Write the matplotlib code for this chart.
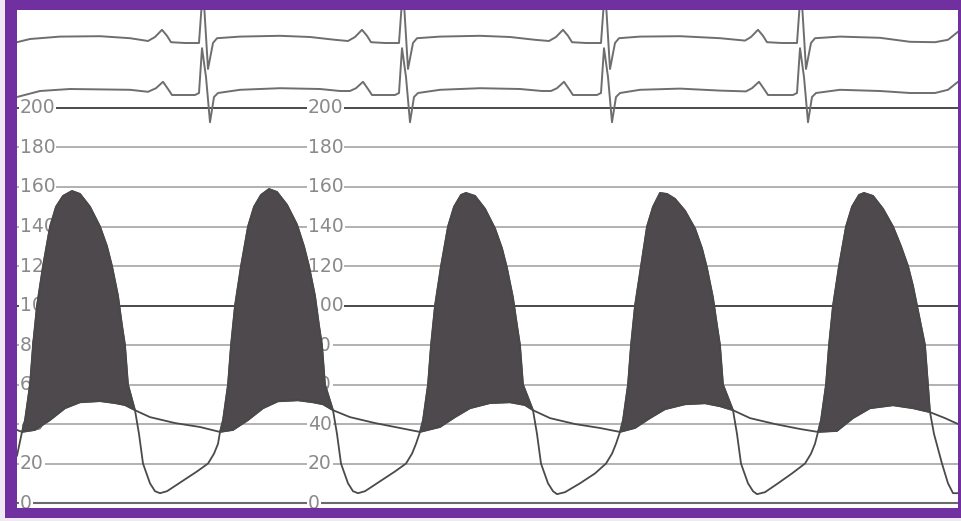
import matplotlib
matplotlib.use("Agg")
import numpy as np
import matplotlib.pyplot as plt
from matplotlib.patches import Rectangle

# left ventricular pressure (time in s, mmHg)
lv_t = [0.000, 0.020, 0.032, 0.052, 0.064, 0.080, 0.104, 0.132, 0.156, 0.184, 0.220, 0.252,
        0.292, 0.332, 0.360, 0.380, 0.404, 0.420, 0.432, 0.444, 0.472, 0.488, 0.504, 0.532,
        0.552, 0.572, 0.600, 0.660, 0.720, 0.764, 0.788, 0.804,
        0.812, 0.824, 0.844, 0.856, 0.872, 0.896, 0.924, 0.948, 0.976, 1.008, 1.040, 1.080,
        1.120, 1.148, 1.168, 1.192, 1.208, 1.220, 1.232, 1.264, 1.280, 1.296, 1.324, 1.344,
        1.364, 1.392, 1.452, 1.512, 1.556, 1.580, 1.596,
        1.612, 1.624, 1.644, 1.656, 1.672, 1.696, 1.724, 1.748, 1.776, 1.796, 1.832, 1.872,
        1.912, 1.940, 1.960, 1.984, 2.000, 2.012, 2.024, 2.064, 2.080, 2.096, 2.124, 2.144,
        2.160, 2.192, 2.252, 2.312, 2.356, 2.380, 2.396,
        2.412, 2.424, 2.444, 2.456, 2.472, 2.496, 2.520, 2.544, 2.572, 2.600, 2.632, 2.672,
        2.712, 2.740, 2.760, 2.784, 2.800, 2.812, 2.824, 2.864, 2.880, 2.896, 2.924, 2.944,
        2.960, 2.992, 3.044, 3.100, 3.152, 3.176, 3.192,
        3.204, 3.216, 3.236, 3.248, 3.264, 3.288, 3.316, 3.340, 3.368, 3.388, 3.424, 3.464,
        3.504, 3.536, 3.564, 3.584, 3.600, 3.616, 3.632, 3.644, 3.652, 3.668, 3.700, 3.724,
        3.744, 3.764]
lv_p = [24, 36, 42, 60, 80, 100, 120, 140, 150, 155.5, 158, 156.5,
        150, 140, 130, 120, 105, 90, 80, 60, 47, 35, 20, 10,
        6, 5, 6, 11, 16, 20, 25, 30,
        36, 42, 60, 80, 100, 120, 140, 150, 156, 159, 157.5, 151,
        141, 130, 120, 105, 90, 80, 60, 47, 35, 20, 10, 6,
        5, 6, 11, 16, 20, 25, 30,
        36, 42, 60, 80, 100, 120, 140, 150, 156, 157, 155.5, 149,
        139, 129, 119, 104, 90, 80, 60, 47, 35, 20, 10, 6,
        4.5, 5.5, 10, 15, 20, 25, 30,
        36, 42, 60, 80, 100, 120, 140, 150, 157, 156.5, 154, 148,
        139, 129, 119, 104, 90, 80, 60, 47, 35, 20, 10, 6,
        4.5, 5.5, 10, 15, 20, 25, 30,
        36, 42, 60, 80, 100, 120, 140, 150, 156, 157, 155.5, 149,
        140, 130, 120, 110, 100, 90, 80, 60, 46, 35, 20, 10,
        5, 5]

# aortic pressure
ao_t = [0.000, 0.020, 0.072, 0.132, 0.192, 0.252, 0.332, 0.392, 0.432, 0.472, 0.532, 0.632,
        0.732, 0.812,
        0.864, 0.924, 0.984, 1.044, 1.124, 1.184, 1.224, 1.264, 1.332, 1.432, 1.532, 1.612,
        1.692, 1.752, 1.812, 1.892, 1.972, 2.032, 2.064, 2.132, 2.232, 2.332, 2.412,
        2.472, 2.532, 2.592, 2.672, 2.752, 2.812, 2.864, 2.932, 3.032, 3.132, 3.204,
        3.280, 3.344, 3.412, 3.504, 3.584, 3.652, 3.712, 3.764]
ao_p = [37, 36, 37, 42, 48, 51, 51.6, 50.6, 49.6, 47, 43.5, 40.5,
        38.5, 36,
        37, 42, 48, 51.5, 52, 51, 50, 47, 43.5, 40.5, 38, 36,
        38.5, 43.5, 48, 50.6, 51, 49.6, 47, 43, 40, 38, 36,
        38, 43, 47.5, 50, 50.5, 49, 47, 43, 40, 37.5, 36,
        36.5, 43, 48, 49.5, 48, 46, 43, 40]

# systolic ejection: LV above aortic pressure
eject_start = [0.020, 0.812, 1.612, 2.412, 3.204]
eject_end = [0.472, 1.264, 2.064, 2.864, 3.652]

# two ECG leads (mV)
ecg1_t = [0.000, 0.052, 0.172, 0.332, 0.452, 0.524, 0.552, 0.580, 0.600, 0.616, 0.672, 0.728,
          0.744, 0.764, 0.784, 0.800, 0.892, 1.052, 1.172, 1.272, 1.324, 1.352, 1.380, 1.400,
          1.416, 1.472, 1.528, 1.544, 1.564, 1.584, 1.600, 1.692, 1.852, 1.972, 2.072, 2.128,
          2.156, 2.184, 2.204, 2.220, 2.276, 2.336, 2.352, 2.372, 2.392, 2.408, 2.492, 2.652,
          2.812, 2.912, 2.936, 2.964, 2.984, 3.000, 3.060, 3.120, 3.136, 3.156, 3.176, 3.192,
          3.292, 3.452, 3.572, 3.672, 3.724, 3.764]
ecg1_v = [0.02, 0.10, 0.16, 0.17, 0.12, 0.05, 0.15, 0.33, 0.18, 0.02, 0.0, 0.0,
          1.4, -0.65, 0.0, 0.12, 0.16, 0.18, 0.15, 0.08, 0.05, 0.15, 0.33, 0.18,
          0.02, 0.0, 0.0, 1.4, -0.65, 0.0, 0.12, 0.16, 0.18, 0.15, 0.08, 0.05,
          0.15, 0.33, 0.18, 0.02, 0.0, 0.0, 1.4, -0.65, 0.0, 0.12, 0.16, 0.17,
          0.12, 0.06, 0.15, 0.33, 0.18, 0.02, 0.0, 0.0, 1.4, -0.65, 0.0, 0.12,
          0.16, 0.13, 0.03, 0.02, 0.08, 0.28]
ecg2_t = [0.000, 0.092, 0.212, 0.452, 0.524, 0.556, 0.584, 0.604, 0.620, 0.712, 0.728, 0.740,
          0.756, 0.772, 0.788, 0.804, 0.892, 1.052, 1.212, 1.292, 1.332, 1.356, 1.384, 1.404,
          1.420, 1.512, 1.528, 1.540, 1.556, 1.572, 1.588, 1.604, 1.692, 1.852, 2.012, 2.100,
          2.136, 2.160, 2.188, 2.208, 2.224, 2.320, 2.336, 2.348, 2.364, 2.380, 2.396, 2.412,
          2.492, 2.652, 2.812, 2.916, 2.940, 2.968, 2.988, 3.004, 3.104, 3.120, 3.132, 3.148,
          3.164, 3.180, 3.196, 3.292, 3.452, 3.572, 3.672, 3.724, 3.764]
ecg2_v = [-0.10, 0.05, 0.10, 0.08, 0.03, 0.12, 0.28, 0.10, -0.05, -0.05, 0.0, 1.12,
          0.4, -0.73, -0.1, 0.0, 0.08, 0.12, 0.10, 0.05, 0.05, 0.12, 0.28, 0.10,
          -0.05, -0.05, 0.0, 1.12, 0.4, -0.73, -0.1, 0.0, 0.08, 0.12, 0.10, 0.05,
          0.05, 0.12, 0.28, 0.10, -0.05, -0.05, 0.0, 1.12, 0.4, -0.73, -0.1, 0.0,
          0.08, 0.11, 0.06, 0.04, 0.12, 0.28, 0.10, -0.05, -0.05, 0.0, 1.12, 0.4,
          -0.73, -0.1, 0.0, 0.08, 0.05, 0.0, 0.0, 0.08, 0.28]

pressure_ticks = [0, 20, 40, 60, 80, 100, 120, 140, 160, 180, 200]
label_pos = [0.012, 1.164]

fig = plt.figure(figsize=(9.61, 5.21), dpi=100, facecolor="#efe9f4")
frame = Rectangle((5 / 961, 3 / 521), 956 / 961, 518 / 521,
                  transform=fig.transFigure, facecolor="#7030a0",
                  edgecolor="none", zorder=-10)
fig.add_artist(frame)
ax = fig.add_axes([17 / 961, 13 / 521, 941 / 961, 498 / 521])
ax.set_zorder(1)
ax.set_facecolor("white")
ax.set_xlim(0, 3.764)
ax.set_ylim(-2.5, 249.6)
ax.set_xticks([])
ax.set_yticks([])
for s in ax.spines.values():
    s.set_visible(False)

# pressure scale lines, 0/100/200 drawn heavier
for lvl in pressure_ticks:
    if lvl in (100, 200):
        ax.axhline(lvl, color="#3c3c3c", lw=1.3, zorder=1)
    elif lvl == 0:
        ax.axhline(lvl, color="#6a6a6a", lw=1.5, zorder=1)
    else:
        ax.axhline(lvl, color="#ababab", lw=1.3, zorder=1)
    for x in label_pos:
        ax.text(x, lvl, str(lvl), fontsize=13.5, color="#8a8a8a", ha="left", va="center",
                zorder=2, clip_on=True,
                bbox=dict(facecolor="white", edgecolor="none", pad=0.5))

lv_t = np.array(lv_t)
lv_p = np.array(lv_p)
ao_t = np.array(ao_t)
ao_p = np.array(ao_p)

# shade the gradient between LV and aorta during ejection
for t0, t1 in zip(eject_start, eject_end):
    m1 = (lv_t >= t0) & (lv_t <= t1)
    m2 = (ao_t >= t0) & (ao_t <= t1)
    xs = np.concatenate([lv_t[m1], ao_t[m2][::-1]])
    ys = np.concatenate([lv_p[m1], ao_p[m2][::-1]])
    ax.fill(xs, ys, facecolor="#4e494c", edgecolor="#3a3638", lw=1.0, zorder=3)

ax.plot(lv_t, lv_p, color="#4a4a4a", lw=1.3, zorder=4)
ax.plot(ao_t, ao_p, color="#4a4a4a", lw=1.3, zorder=4)

# ECG strip on its own scale at the top
ecg = ax.twinx()
ecg.set_zorder(2)
ecg.set_ylim(-11.625, 0.825)
ecg.set_yticks([])
for s in ecg.spines.values():
    s.set_visible(False)
ecg.plot(ecg1_t, ecg1_v, color="#6e6e6e", lw=1.4)
ecg.plot(ecg2_t, np.array(ecg2_v) - 1.25, color="#6e6e6e", lw=1.4)

fig.savefig("out.png", dpi=100, facecolor=fig.get_facecolor())
